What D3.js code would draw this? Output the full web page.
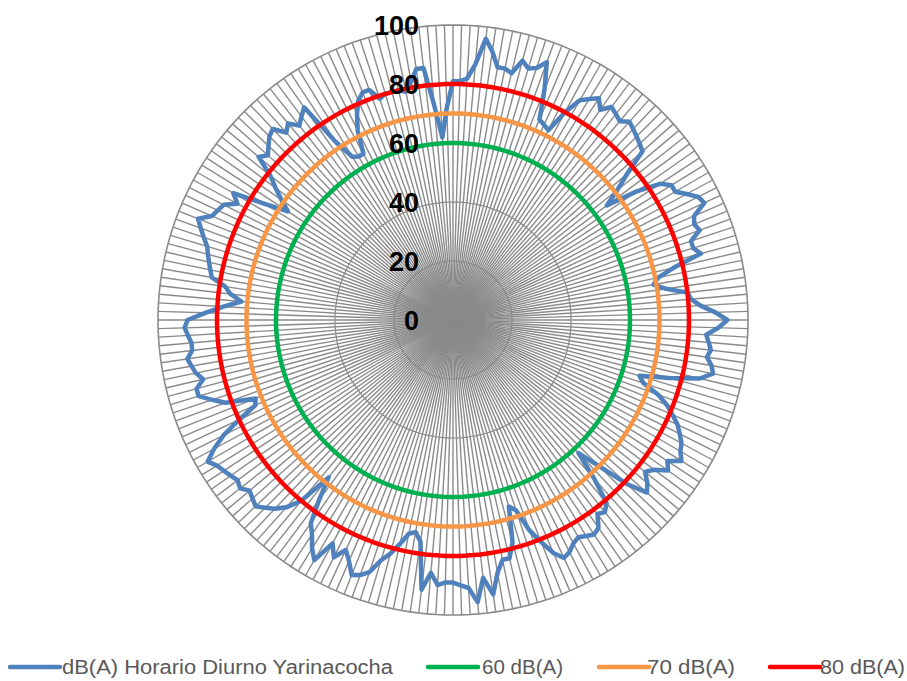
<!DOCTYPE html>
<html>
<head>
<meta charset="utf-8">
<script src="https://cdn.jsdelivr.net/npm/d3@7"></script>
<style>
  html, body { margin: 0; padding: 0; background: #ffffff; }
  svg { display: block; }
</style>
</head>
<body>
<svg id="chart" width="907" height="681"></svg>
<script>
// ---- DATA ----
const seriesValues = [
  81, 81, 82, 87, 96, 92, 87, 87, 86, 91, 89, 90, 93, 84, 74, 73, 72, 80, 86, 88,
  90, 87, 90, 89, 88, 90, 89, 88, 87, 86, 77, 71, 65, 76, 84, 87, 87, 90, 93, 94,
  89, 88, 89, 85, 85, 87, 77, 71, 69, 73, 80, 81, 84, 89, 93, 90, 86, 87, 88, 87,
  89, 90, 86, 76, 66, 68, 74, 78, 81, 84, 86, 88, 89, 91, 87, 89, 85, 83, 86, 88,
  81, 70, 62, 72, 81, 83, 82, 86, 87, 86, 85, 86, 88, 89, 86, 81, 76, 68, 66, 78,
  83, 83, 87, 94, 88, 96, 91, 90, 89, 89, 90, 86, 92, 76, 73, 74, 78, 82, 85, 90,
  92, 93, 89, 86, 90, 86, 94, 91, 87, 84, 76, 68, 80, 85, 88, 90, 92, 91, 90, 92,
  91, 92, 93, 94, 96, 92, 87, 80, 73, 72, 82, 86, 90, 90, 87, 89, 90, 91, 89, 89,
  90, 91, 90, 84, 78, 72, 76, 78, 83, 84, 85, 86, 87, 89, 91, 93, 89, 88, 87, 83,
  86, 75, 67, 71, 75, 79, 86, 84, 86, 88, 89, 85, 87, 84, 86, 88, 72, 65, 64, 64,
  72, 77, 81, 83, 83, 79, 80, 80, 80, 79, 82, 86, 86, 73, 62, 72
];
const categories = seriesValues.map((_, i) => String(i + 1));
const limit60 = categories.map(() => 60);
const limit70 = categories.map(() => 70);
const limit80 = categories.map(() => 80);
const tickValues = [0, 20, 40, 60, 80, 100];
const seriesNames = ["dB(A) Horario Diurno Yarinacocha", "60 dB(A)", "70 dB(A)", "80 dB(A)"];
const seriesColors = ["#4F81BD", "#00B050", "#F79646", "#FF0000"];

// ---- LAYOUT ----
const svg = d3.select("#chart");
const cx = 453, cy = 320, R = 295;
const N = categories.length;

const r = d3.scaleLinear().domain([0, 100]).range([0, R]);
const angle = d3.scaleLinear().domain([0, N]).range([0, 2 * Math.PI]);

const g = svg.append("g").attr("transform", `translate(${cx},${cy})`);

// spokes
g.append("g").selectAll("line")
  .data(categories)
  .join("line")
  .attr("x1", 0).attr("y1", 0)
  .attr("x2", (d, i) => r(100) * Math.sin(angle(i)))
  .attr("y2", (d, i) => -r(100) * Math.cos(angle(i)))
  .attr("stroke", "#8a8a8a")
  .attr("stroke-width", 1.4);

// grid polygons
const gridLine = d3.lineRadial()
  .angle((d, i) => angle(i))
  .radius(d => r(d))
  .curve(d3.curveLinearClosed);

g.append("g").selectAll("path")
  .data(tickValues.filter(t => t > 0))
  .join("path")
  .attr("d", t => gridLine(categories.map(() => t)))
  .attr("fill", "none")
  .attr("stroke", "#8a8a8a")
  .attr("stroke-width", t => t === 100 ? 1.6 : 1.2);

// series
const seriesLine = d3.lineRadial()
  .angle((d, i) => angle(i))
  .radius(d => r(d))
  .curve(d3.curveLinearClosed);

const allSeries = [seriesValues, limit60, limit70, limit80];
g.append("g").selectAll("path")
  .data(allSeries)
  .join("path")
  .attr("d", d => seriesLine(d))
  .attr("fill", "none")
  .attr("stroke", (d, i) => seriesColors[i])
  .attr("stroke-width", 4.5)
  .attr("stroke-linejoin", "round");

// axis tick labels
g.append("g").selectAll("text")
  .data(tickValues)
  .join("text")
  .attr("x", -34)
  .attr("y", t => -r(t))
  .attr("dy", "0.36em")
  .attr("text-anchor", "end")
  .attr("font-family", "Liberation Sans, Arial, sans-serif")
  .attr("font-weight", "bold")
  .attr("font-size", 27)
  .attr("fill", "#000000")
  .text(t => t);

// legend
const legendItems = [
  { x: 10, tx: 62, tw: 331 },
  { x: 428, tx: 482, tw: 81 },
  { x: 599, tx: 647, tw: 88 },
  { x: 770, tx: 820, tw: 85 }
];
const legend = svg.append("g");
const ly = 667;
legendItems.forEach((it, i) => {
  legend.append("line")
    .attr("x1", it.x).attr("x2", it.x + 50)
    .attr("y1", ly).attr("y2", ly)
    .attr("stroke", seriesColors[i])
    .attr("stroke-width", 4.5)
    .attr("stroke-linecap", "round");
  legend.append("text")
    .attr("x", it.tx)
    .attr("y", ly)
    .attr("dy", "0.35em")
    .attr("font-family", "Liberation Sans Narrow, Liberation Sans, Arial, sans-serif")
    .attr("font-size", 20)
    .attr("fill", "#595959")
    .attr("textLength", it.tw)
    .attr("lengthAdjust", "spacingAndGlyphs")
    .text(seriesNames[i]);
});
</script>
</body>
</html>
